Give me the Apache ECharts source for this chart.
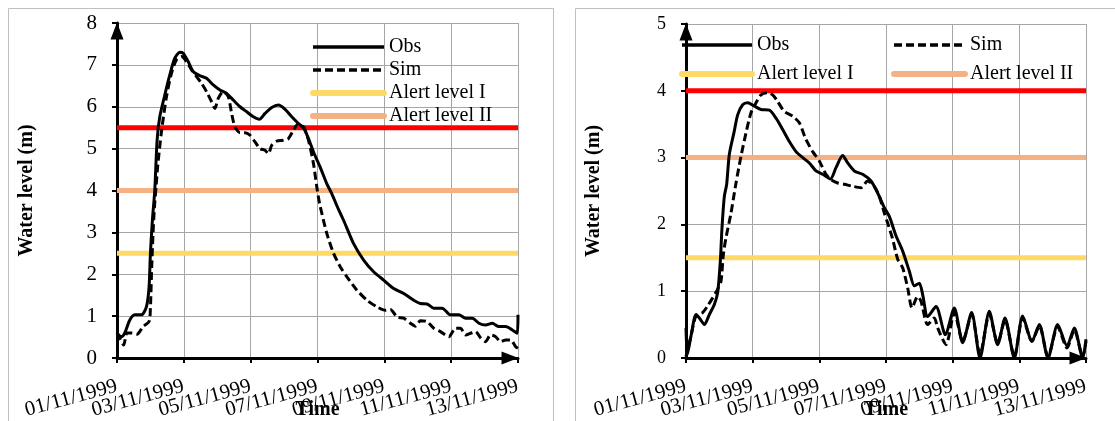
<!DOCTYPE html>
<html>
<head>
<meta charset="utf-8">
<title>Water level</title>
<script src="https://cdn.jsdelivr.net/npm/echarts@6.0.0/dist/echarts.min.js"></script>
<style>
  html, body { margin: 0; padding: 0; background: #fff; }
  #main { width: 1115px; height: 421px; }
</style>
</head>
<body>
<div id="main"></div>
<script>
// tick labels of the time axis (one every 2 days, day 0 = 01/11/1999)
var xTickLabels = ['01/11/1999', '03/11/1999', '05/11/1999', '07/11/1999', '09/11/1999', '11/11/1999', '13/11/1999'];
var xTickDays = [0, 2, 4, 6, 8, 10, 12];
var dayRange = [0, 12];

// alert levels I, II, III (m)
var alertLevelsA = [2.5, 4.0, 5.5];
var alertLevelsB = [1.5, 3.0, 4.0];

// left station
var obsDaysA = [0, 0.13, 0.23, 0.38, 0.53, 0.73, 0.88, 0.96, 1.0, 1.06, 1.13, 1.2, 1.28, 1.43, 1.58, 1.73, 1.88, 1.98,
  2.13, 2.28, 2.48, 2.68, 2.88, 3.08, 3.28, 3.48, 3.68, 3.88, 4.08, 4.26, 4.43, 4.63, 4.83, 5.03, 5.23, 5.43, 5.58,
  5.73, 5.88, 6.08, 6.28, 6.43, 6.6, 6.78, 7.08, 7.38, 7.68, 7.98, 8.28, 8.58, 8.88, 9.08, 9.28, 9.48, 9.73, 9.98,
  10.23, 10.43, 10.63, 10.83, 11.03, 11.23, 11.43, 11.63, 11.83, 11.98, 12.0];
var obsA = [0.6, 0.51, 0.59, 0.9, 1.03, 1.03, 1.22, 1.7, 2.5, 3.3, 4.0, 5.2, 5.76, 6.28, 6.76, 7.16, 7.3, 7.28,
  7.08, 6.84, 6.74, 6.68, 6.52, 6.4, 6.32, 6.16, 6.0, 5.88, 5.76, 5.7, 5.84, 5.98, 6.04, 5.94, 5.76, 5.6, 5.5,
  5.24, 4.92, 4.56, 4.16, 3.92, 3.6, 3.29, 2.73, 2.34, 2.06, 1.86, 1.66, 1.54, 1.38, 1.3, 1.29, 1.19, 1.19, 1.03,
  1.03, 0.95, 0.95, 0.83, 0.79, 0.83, 0.75, 0.75, 0.67, 0.59, 1.03];

var simDaysA = [0, 0.1, 0.2, 0.3, 0.45, 0.6, 0.78, 0.96, 1.0, 1.04, 1.08, 1.12, 1.17, 1.22, 1.33, 1.48, 1.63, 1.78,
  1.93, 2.08, 2.23, 2.38, 2.53, 2.68, 2.83, 2.93, 3.03, 3.18, 3.33, 3.43, 3.53, 3.68, 3.83, 3.98, 4.13, 4.28, 4.43,
  4.53, 4.63, 4.78, 4.98, 5.13, 5.28, 5.43, 5.58, 5.73, 5.88, 5.98, 6.06, 6.28, 6.48, 6.68, 6.88, 7.18, 7.48, 7.78,
  8.03, 8.18, 8.38, 8.58, 8.78, 8.93, 9.08, 9.28, 9.48, 9.68, 9.93, 10.13, 10.28, 10.43, 10.58, 10.73, 10.88, 11.03,
  11.18, 11.33, 11.48, 11.63, 11.78, 11.93, 12.0];
var simA = [0.6, 0.45, 0.31, 0.6, 0.6, 0.57, 0.75, 0.87, 1.2, 2.2, 3.0, 3.6, 4.1, 4.6, 5.4, 6.24, 6.8, 7.12,
  7.2, 7.08, 6.88, 6.72, 6.56, 6.36, 6.12, 5.96, 6.2, 6.36, 6.24, 5.84, 5.52, 5.38, 5.38, 5.32, 5.16, 5.0, 4.96,
  4.88, 5.08, 5.18, 5.2, 5.24, 5.44, 5.6, 5.52, 5.2, 4.64, 4.08, 3.7, 2.97, 2.5, 2.18, 1.94, 1.62, 1.38, 1.22,
  1.14, 1.16, 0.98, 0.95, 0.83, 0.76, 0.89, 0.87, 0.71, 0.63, 0.51, 0.71, 0.71, 0.55, 0.59, 0.63, 0.48, 0.39,
  0.55, 0.51, 0.39, 0.43, 0.43, 0.27, 0.23];

// right station
var obsDaysB = [0, 0.04, 0.15, 0.3, 0.4, 0.55, 0.7, 0.85, 0.95, 1.03, 1.08, 1.15, 1.22, 1.3, 1.45, 1.55, 1.7, 1.85,
  2.05, 2.25, 2.5, 2.7, 2.9, 3.1, 3.3, 3.5, 3.7, 3.9, 4.1, 4.33, 4.5, 4.7, 4.85, 5.05, 5.3, 5.55, 5.75, 5.95, 6.1,
  6.3, 6.5, 6.7, 6.85, 7.0, 7.1, 7.25, 7.5, 7.78, 8.05, 8.3, 8.57, 8.82, 9.1, 9.35, 9.57, 9.85, 10.1, 10.38, 10.6,
  10.86, 11.15, 11.43, 11.65, 11.9, 12.0];
var obsB = [0.45, 0.05, 0.33, 0.65, 0.6, 0.5, 0.65, 0.8, 0.98, 1.45, 1.95, 2.42, 2.6, 3.05, 3.4, 3.64, 3.79, 3.82,
  3.77, 3.72, 3.71, 3.59, 3.42, 3.24, 3.09, 3.0, 2.92, 2.8, 2.75, 2.68, 2.85, 3.03, 2.92, 2.8, 2.75, 2.65, 2.47, 2.25, 2.12,
  1.83, 1.6, 1.3, 1.08, 1.12, 0.95, 0.62, 0.77, 0.35, 0.75, 0.23, 0.68, 0.0, 0.7, 0.2, 0.6, 0.0, 0.63, 0.25, 0.5,
  0.0, 0.5, 0.18, 0.45, 0.0, 0.28];

var simDaysB = [0, 0.15, 0.3, 0.5, 0.65, 0.8, 0.95, 1.05, 1.12, 1.2, 1.35, 1.5, 1.65, 1.8, 1.95, 2.1, 2.25, 2.45,
  2.6, 2.75, 2.95, 3.2, 3.4, 3.6, 3.8, 4.0, 4.2, 4.35, 4.55, 4.75, 5.0, 5.25, 5.45, 5.65, 5.8, 5.95, 6.05, 6.2,
  6.35, 6.5, 6.65, 6.78, 6.95, 7.05, 7.25, 7.45, 7.55, 7.8, 8.05, 8.3, 8.57, 8.82, 9.1, 9.35, 9.57, 9.85, 10.1,
  10.38, 10.6, 10.86, 11.15, 11.43, 11.65, 11.9, 12.0];
var simB = [0.02, 0.33, 0.63, 0.68, 0.78, 0.9, 1.03, 1.15, 1.55, 1.8, 2.17, 2.62, 3.02, 3.37, 3.67, 3.82, 3.94, 3.97,
  3.94, 3.84, 3.69, 3.62, 3.52, 3.27, 3.09, 2.95, 2.75, 2.67, 2.62, 2.6, 2.57, 2.55, 2.65, 2.57, 2.42, 2.17, 2.02, 1.78,
  1.48, 1.35, 1.05, 0.75, 0.92, 0.85, 0.5, 0.6, 0.45, 0.2, 0.68, 0.25, 0.65, 0.05, 0.66, 0.22, 0.57, 0.02, 0.6,
  0.25, 0.48, 0.02, 0.47, 0.15, 0.42, 0.02, 0.25];

var serif = 'Liberation Serif';
var alertColors = ['#FFD966', '#F4B183', '#FF0000'];
var alertNames = ['Alert level I', 'Alert level II', 'Alert level III'];

function pairs(days, vals) {
  return days.map(function (d, i) { return [d, vals[i]]; });
}

function flat(level) {
  return [[dayRange[0], level], [dayRange[1], level]];
}

function dateLabel(v) {
  return xTickLabels[xTickDays.indexOf(Math.round(v))] || '';
}

var xLabelStyle = { rotate: 15, margin: 28, fontFamily: serif, fontSize: 21, color: '#000', formatter: dateLabel };

// main time axis: line, ticks, grid and every other date label
function xAxisFor(grid) {
  return {
    type: 'value', gridIndex: grid, position: 'bottom', min: dayRange[0], max: dayRange[1], interval: 2,
    name: 'Time', nameLocation: 'middle', nameGap: 42, nameMoveOverlap: false,
    nameTextStyle: { fontFamily: serif, fontWeight: 'bold', fontSize: 20, color: '#000' },
    axisLine: {
      lineStyle: { color: '#000', width: 3 },
      symbol: ['none', 'triangle'], symbolSize: [13, 17], symbolOffset: [0, -8]
    },
    axisTick: { show: true, length: 5, lineStyle: { color: '#000', width: 2 } },
    axisLabel: Object.assign({ customValues: xTickDays.filter(function (d, k) { return k % 2 === 0; }) }, xLabelStyle),
    splitLine: { show: true, lineStyle: { color: '#a6a6a6', width: 1 } }
  };
}

// overlaid axis carrying the remaining date labels (slanted labels overlap otherwise get culled)
function xAxisExtra(grid) {
  return {
    type: 'value', gridIndex: grid, position: 'bottom', min: dayRange[0], max: dayRange[1], interval: 2,
    axisLine: { show: false }, axisTick: { show: false }, splitLine: { show: false },
    axisLabel: Object.assign({ customValues: xTickDays.filter(function (d, k) { return k % 2 === 1; }) }, xLabelStyle)
  };
}

function yAxisFor(grid, max, fontSize, gap) {
  return {
    type: 'value', gridIndex: grid, min: 0, max: max, interval: 1,
    name: 'Water level (m)', nameLocation: 'middle', nameGap: gap, nameMoveOverlap: false,
    nameTextStyle: { fontFamily: serif, fontWeight: 'bold', fontSize: 20, color: '#000' },
    axisLine: {
      show: true,
      lineStyle: { color: '#000', width: 3 },
      symbol: ['none', 'triangle'], symbolSize: [13, 17], symbolOffset: [0, -8]
    },
    axisTick: { show: true, length: 5, lineStyle: { color: '#000', width: 2 } },
    axisLabel: { margin: 20, fontFamily: serif, fontSize: fontSize, color: '#000' },
    splitLine: { show: true, lineStyle: { color: '#a6a6a6', width: 1 } }
  };
}

function panelSeries(xi, yi, levels, obsDays, obs, simDays, sim) {
  var list = [];
  levels.forEach(function (lv, k) {
    list.push({
      name: alertNames[k], type: 'line', xAxisIndex: xi, yAxisIndex: yi,
      data: flat(lv), symbol: 'none', z: 2,
      lineStyle: { color: alertColors[k], width: 5 }, itemStyle: { color: alertColors[k] }
    });
  });
  list.push({
    name: 'Obs', type: 'line', xAxisIndex: xi, yAxisIndex: yi,
    data: pairs(obsDays, obs), symbol: 'none', smooth: 0.25, z: 4,
    lineStyle: { color: '#000', width: 3 }, itemStyle: { color: '#000' }
  });
  list.push({
    name: 'Sim', type: 'line', xAxisIndex: xi, yAxisIndex: yi,
    data: pairs(simDays, sim), symbol: 'none', smooth: 0.25, z: 3,
    lineStyle: { color: '#000', width: 3, type: [8, 4] }, itemStyle: { color: '#000' }
  });
  return list;
}

var legendText = { fontFamily: serif, fontSize: 20, color: '#000' };
var legendItems = {
  'Obs': { name: 'Obs', lineStyle: { width: 3.5 } },
  'Sim': { name: 'Sim', lineStyle: { width: 3.5 } },
  'Alert level I': { name: 'Alert level I', lineStyle: { width: 6, cap: 'round' } },
  'Alert level II': { name: 'Alert level II', lineStyle: { width: 6, cap: 'round' } }
};

function legendAt(left, top, gap, width, names) {
  return {
    left: left, top: top, orient: 'vertical', padding: 0, itemWidth: width, itemHeight: 14, itemGap: gap,
    selectedMode: false, textStyle: legendText, itemStyle: { opacity: 0 },
    data: names.map(function (n) { return legendItems[n]; })
  };
}

var option = {
  animation: false,
  backgroundColor: '#fff',
  graphic: [
    { type: 'rect', silent: true, z: -10, shape: { x: 8.5, y: 8.5, width: 545, height: 440 },
      style: { fill: 'none', stroke: '#bfbfbf', lineWidth: 1 } },
    { type: 'rect', silent: true, z: -10, shape: { x: 575.5, y: 8.5, width: 600, height: 440 },
      style: { fill: 'none', stroke: '#bfbfbf', lineWidth: 1 } }
  ],
  grid: [
    { left: 117, top: 23, width: 401, height: 335, outerBoundsMode: 'none' },
    { left: 686, top: 24, width: 400, height: 334, outerBoundsMode: 'none' }
  ],
  legend: [
    legendAt(310, 37, 3, 71, ['Obs', 'Sim', 'Alert level I', 'Alert level II']),
    legendAt(679, 35, 9, 70, ['Obs', 'Alert level I']),
    legendAt(891, 35, 9, 71, ['Sim', 'Alert level II'])
  ],
  xAxis: [xAxisFor(0), xAxisExtra(0), xAxisFor(1), xAxisExtra(1)],
  yAxis: [yAxisFor(0, 8, 21, 80), yAxisFor(1, 5, 18, 82)],
  series: panelSeries(0, 0, alertLevelsA, obsDaysA, obsA, simDaysA, simA)
    .concat(panelSeries(2, 1, alertLevelsB, obsDaysB, obsB, simDaysB, simB))
};

var chart = echarts.init(document.getElementById('main'));
chart.setOption(option);
</script>
</body>
</html>
